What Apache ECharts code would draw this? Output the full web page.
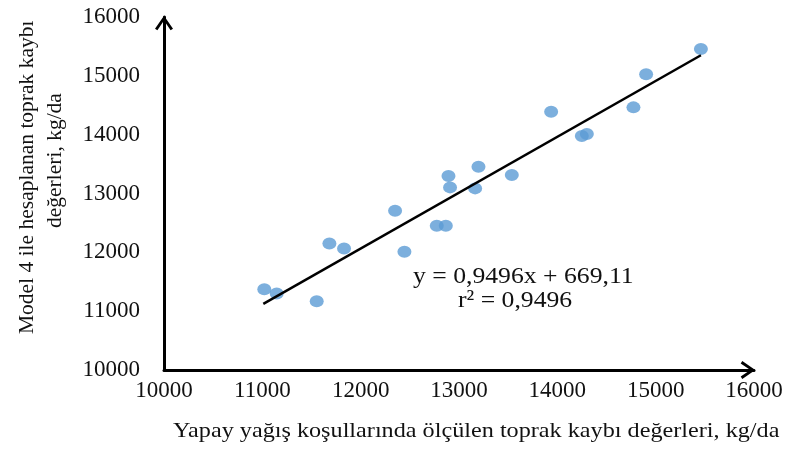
<!DOCTYPE html>
<html>
<head>
<meta charset="utf-8">
<script src="https://cdn.jsdelivr.net/npm/echarts@6/dist/echarts.min.js"></script>
<style>html,body{margin:0;padding:0;background:#fff;}#c{width:791px;height:450px;}</style>
</head>
<body>
<div id="c"></div>
<script>
// Data
var measured = [11020, 11146, 11553, 11682, 11831, 12350, 12445, 12774, 12866, 12893, 12909, 13198, 13164, 13537, 13937, 14249, 14300, 14774, 14903, 15460];
var predicted = [11374, 11301, 11170, 12151, 12066, 12706, 12009, 12451, 12451, 13296, 13104, 13454, 13087, 13313, 14390, 13976, 14010, 14464, 15026, 15456];
var trendX = [11010, 15460];
var slope = 0.9496, intercept = 669.11;
var xTicks = [10000, 11000, 12000, 13000, 14000, 15000, 16000];
var yTicks = [10000, 11000, 12000, 13000, 14000, 15000, 16000];
var xTitle = 'Yapay yağış koşullarında ölçülen toprak kaybı değerleri, kg/da';
var yTitle1 = 'Model 4 ile hesaplanan toprak kaybı';
var yTitle2 = 'değerleri, kg/da';
var eq1 = 'y = 0,9496x + 669,11';
var eq2 = 'r² = 0,9496';

var FONT = '"Liberation Serif", "Times New Roman", serif';
var chevron = 'path://M0,13 L9,0 L18,13 L15.6,14.6 L9,4.9 L2.4,14.6 Z';

var points = measured.map(function (x, i) { return [x, predicted[i]]; });
var trend = trendX.map(function (x) { return [x, slope * x + intercept]; });

var chart = echarts.init(document.getElementById('c'), null, {renderer: 'canvas'});
chart.setOption({
  animation: false,
  backgroundColor: '#ffffff',
  grid: {left: 164, right: 37, top: 17, bottom: 80, containLabel: false},
  xAxis: {
    type: 'value', min: xTicks[0], max: xTicks[xTicks.length - 1], interval: 1000,
    splitLine: {show: false},
    axisTick: {show: false},
    axisLine: {show: true, onZero: false, lineStyle: {color: '#000', width: 3},
      symbol: ['none', chevron], symbolSize: [18, 15], symbolOffset: [0, -6]},
    axisLabel: {color: '#111', fontFamily: FONT, fontSize: 23, margin: 9,
      formatter: function (v) { return String(v); }}
  },
  yAxis: {
    type: 'value', min: yTicks[0], max: yTicks[yTicks.length - 1], interval: 1000,
    splitLine: {show: false},
    axisTick: {show: false},
    axisLine: {show: true, onZero: false, lineStyle: {color: '#000', width: 3},
      symbol: ['none', chevron], symbolSize: [18, 15], symbolOffset: [0, -6]},
    axisLabel: {color: '#111', fontFamily: FONT, fontSize: 23, margin: 24,
      formatter: function (v) { return String(v); }}
  },
  series: [
    {
      type: 'scatter', data: points, symbol: 'circle', symbolSize: [14, 12],
      itemStyle: {color: '#5B9BD5'}, z: 3
    },
    {
      type: 'line', data: trend, symbol: 'none', lineStyle: {color: '#000', width: 2.5}, z: 4
    }
  ],
  graphic: [
    {type: 'text', x: 173, y: 420, scaleX: 1.1, style: {text: xTitle, font: '22px ' + FONT, fill: '#111'}},
    {type: 'text', rotation: Math.PI / 2, x: 16, y: 334, style: {text: yTitle1, font: '21.5px ' + FONT, fill: '#111'}},
    {type: 'text', rotation: Math.PI / 2, x: 44, y: 228, style: {text: yTitle2, font: '21.5px ' + FONT, fill: '#111'}},
    {type: 'text', x: 413, y: 265, scaleX: 1.07, style: {text: eq1, font: '24px ' + FONT, fill: '#111'}},
    {type: 'text', x: 458, y: 289, scaleX: 1.07, style: {text: eq2, font: '24px ' + FONT, fill: '#111'}}
  ]
});
</script>
</body>
</html>
